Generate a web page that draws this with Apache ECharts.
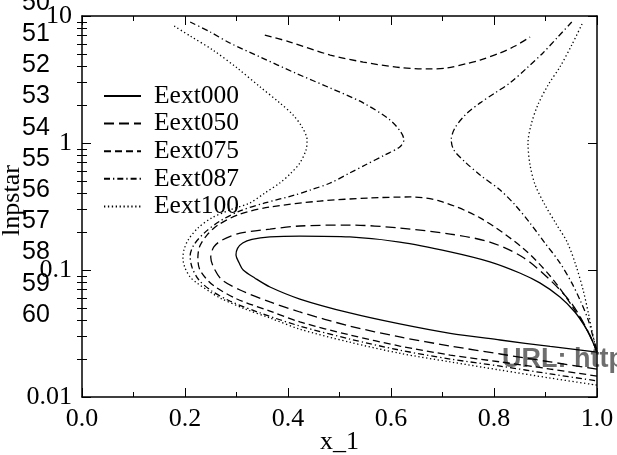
<!DOCTYPE html>
<html>
<head>
<meta charset="utf-8">
<script src="https://cdn.jsdelivr.net/npm/echarts@6/dist/echarts.min.js"></script>
<style>
  html, body { margin: 0; padding: 0; background: #ffffff; }
  #chart { width: 617px; height: 455px; }
</style>
</head>
<body>
<div id="chart"></div>
<script>
// Axis tick labels
const xTickLabels = ['0.0', '0.2', '0.4', '0.6', '0.8', '1.0'];
const yTickLabels = ['0.01', '0.1', '1', '10'];
const yMinorTicks = [0.02, 0.03, 0.04, 0.05, 0.06, 0.07, 0.08, 0.09,
                     0.2, 0.3, 0.4, 0.5, 0.6, 0.7, 0.8, 0.9,
                     2, 3, 4, 5, 6, 7, 8, 9];

// Series names
const seriesNames = ['Eext000', 'Eext050', 'Eext075', 'Eext087', 'Eext100'];

// Row labels running down the left margin
const sideNumbers = ['50', '51', '52', '53', '54', '55', '56', '57', '58', '59', '60'];
const urlText = 'URL: http';

// Contours: [x_1, lnpstar]
const eext000 = [
  [1.0, 0.0226], [0.909, 0.0250], [0.812, 0.0281], [0.715, 0.0317], [0.617, 0.0376],
  [0.520, 0.0459], [0.423, 0.0591], [0.365, 0.0735], [0.336, 0.0862],
  [0.313, 0.100], [0.305, 0.114], [0.299, 0.131], [0.302, 0.148], [0.312, 0.163],
  [0.330, 0.174], [0.365, 0.182], [0.423, 0.185], [0.520, 0.182], [0.617, 0.166],
  [0.715, 0.139], [0.792, 0.116], [0.850, 0.0947], [0.889, 0.0791], [0.928, 0.0613],
  [0.957, 0.0467], [0.977, 0.0356], [0.990, 0.0281], [1.0, 0.0226]
];

const eext050 = [
  [1.0, 0.0166], [0.909, 0.0189], [0.812, 0.0218], [0.715, 0.0252], [0.617, 0.0297],
  [0.520, 0.0362], [0.423, 0.0467], [0.365, 0.0560], [0.307, 0.0696], [0.272, 0.0834],
  [0.256, 0.104], [0.250, 0.126], [0.256, 0.152], [0.272, 0.172], [0.307, 0.195],
  [0.365, 0.210], [0.423, 0.222], [0.520, 0.226], [0.617, 0.214], [0.715, 0.192],
  [0.792, 0.166], [0.856, 0.126], [0.909, 0.0834], [0.953, 0.0530], [0.986, 0.0308],
  [1.0, 0.0226]
];

const eext075Loop = [
  [1.0, 0.0146], [0.909, 0.0166], [0.812, 0.0189], [0.715, 0.0214], [0.617, 0.0252],
  [0.520, 0.0308], [0.423, 0.0390], [0.365, 0.0475], [0.301, 0.0591], [0.254, 0.0762],
  [0.229, 0.100], [0.225, 0.126], [0.229, 0.155], [0.243, 0.189], [0.264, 0.226],
  [0.307, 0.276], [0.365, 0.313], [0.462, 0.349], [0.559, 0.369], [0.637, 0.376],
  [0.695, 0.349], [0.773, 0.257], [0.856, 0.149], [0.909, 0.0897], [0.953, 0.0511],
  [0.986, 0.0308], [1.0, 0.0226]
];

const eext075Arc = [
  [0.355, 7.08], [0.404, 6.24], [0.482, 4.93], [0.546, 4.34], [0.617, 3.93],
  [0.676, 3.83], [0.709, 3.90], [0.748, 4.23], [0.773, 4.50], [0.812, 5.12],
  [0.841, 5.80], [0.870, 6.83]
];

const eext087Left = [
  [0.210, 8.97], [0.249, 7.48], [0.287, 6.13], [0.346, 4.75], [0.414, 3.56],
  [0.482, 2.71], [0.546, 2.07], [0.598, 1.52], [0.619, 1.22], [0.625, 1.06],
  [0.617, 0.931], [0.588, 0.805], [0.550, 0.671], [0.520, 0.581], [0.482, 0.484],
  [0.443, 0.426], [0.414, 0.390], [0.355, 0.337], [0.307, 0.292], [0.268, 0.243],
  [0.237, 0.195], [0.217, 0.157], [0.210, 0.129], [0.214, 0.104], [0.227, 0.0834],
  [0.252, 0.0684], [0.287, 0.0570], [0.346, 0.0459], [0.423, 0.0362], [0.520, 0.0286],
  [0.617, 0.0234], [0.715, 0.0199], [0.812, 0.0175], [0.909, 0.0152], [1.0, 0.0134]
];

const eext087Right = [
  [0.951, 8.97], [0.924, 6.83], [0.895, 5.12], [0.864, 3.90], [0.831, 2.97],
  [0.802, 2.48], [0.773, 2.07], [0.744, 1.66], [0.724, 1.31], [0.717, 1.06],
  [0.722, 0.881], [0.744, 0.708], [0.773, 0.560], [0.812, 0.426], [0.841, 0.325],
  [0.870, 0.234], [0.899, 0.163], [0.928, 0.114], [0.951, 0.0791], [0.967, 0.0581],
  [0.983, 0.0404], [0.994, 0.0281], [1.0, 0.0234]
];

const eext100Left = [
  [0.179, 8.34], [0.210, 6.96], [0.254, 5.40], [0.301, 3.90], [0.346, 2.76],
  [0.384, 2.07], [0.410, 1.66], [0.427, 1.34], [0.437, 1.06], [0.435, 0.881],
  [0.423, 0.696], [0.404, 0.570], [0.384, 0.484], [0.355, 0.404], [0.326, 0.337],
  [0.287, 0.297], [0.252, 0.257], [0.225, 0.214], [0.206, 0.172], [0.198, 0.144],
  [0.196, 0.124], [0.200, 0.104], [0.210, 0.0881], [0.223, 0.0791], [0.249, 0.0671],
  [0.268, 0.0602], [0.317, 0.0493], [0.365, 0.0419], [0.423, 0.0342], [0.520, 0.0270],
  [0.617, 0.0221], [0.715, 0.0189], [0.812, 0.0163], [0.909, 0.0141], [1.0, 0.0124]
];

const eext100Right = [
  [0.971, 8.65], [0.951, 5.91], [0.928, 3.97], [0.905, 2.86], [0.885, 1.99],
  [0.872, 1.39], [0.866, 1.00], [0.870, 0.671], [0.880, 0.467], [0.899, 0.325],
  [0.922, 0.226], [0.942, 0.166], [0.959, 0.109], [0.973, 0.0696], [0.984, 0.0443],
  [0.994, 0.0281], [1.0, 0.0226]
];

const SERIF = '"Liberation Serif", "Times New Roman", serif';
const SANS = '"Liberation Sans", Arial, sans-serif';
const INK = '#000000';

const dashStyles = {
  Eext000: 'solid',
  Eext050: [10, 5],
  Eext075: [7, 4],
  Eext087: [6, 3, 1.3, 3],
  Eext100: [1.3, 2.6]
};

function curve(name, data) {
  return {
    name: name,
    type: 'line',
    data: data,
    symbol: 'none',
    smooth: 0.3,
    clip: true,
    silent: true,
    animation: false,
    lineStyle: { color: INK, width: 1.3, type: dashStyles[name] },
    itemStyle: { color: INK }
  };
}

const series = [
  curve('Eext000', eext000),
  curve('Eext050', eext050),
  curve('Eext075', eext075Loop),
  curve('Eext075', eext075Arc),
  curve('Eext087', eext087Left),
  curve('Eext087', eext087Right),
  curve('Eext100', eext100Left),
  curve('Eext100', eext100Right)
];

function xAxisBase(position, withLabels) {
  return {
    type: 'value',
    position: position,
    min: 0, max: 1, interval: 0.2,
    name: withLabels ? 'x_1' : '',
    nameLocation: 'middle',
    nameGap: 32,
    nameMoveOverlap: false,
    nameTextStyle: { fontFamily: SERIF, fontSize: 26, color: INK },
    axisLine: { show: true, onZero: false, lineStyle: { color: INK, width: 1.5 } },
    axisTick: { show: true, inside: true, length: 9, lineStyle: { color: INK, width: 1 } },
    minorTick: { show: true, splitNumber: 2, length: 5, lineStyle: { color: INK, width: 1 } },
    axisLabel: {
      show: withLabels, margin: 9, fontFamily: SERIF, fontSize: 26, color: INK,
      formatter: v => xTickLabels[Math.round(v / 0.2)]
    },
    splitLine: { show: false }
  };
}

function yAxisBase(position, withLabels) {
  return {
    type: 'log',
    logBase: 10,
    position: position,
    min: 0.01, max: 10,
    name: withLabels ? 'lnpstar' : '',
    nameLocation: 'middle',
    nameGap: 57,
    nameRotate: 90,
    nameMoveOverlap: false,
    nameTextStyle: { fontFamily: SERIF, fontSize: 26, color: INK, padding: [0, 0, 0, 12] },
    axisLine: { show: true, onZero: false, lineStyle: { color: INK, width: 1.5 } },
    axisTick: { show: true, inside: true, length: 9, lineStyle: { color: INK, width: 1 } },
    axisLabel: {
      show: withLabels, margin: 10, fontFamily: SERIF, fontSize: 26, color: INK,
      formatter: v => yTickLabels[Math.round(Math.log10(v)) + 2]
    },
    splitLine: { show: false }
  };
}

function yMinorAxis(position) {
  return {
    type: 'log',
    logBase: 10,
    position: position,
    min: 0.01, max: 10,
    axisLine: { show: false },
    axisTick: { show: true, inside: true, length: 5, customValues: yMinorTicks,
                lineStyle: { color: INK, width: 1 } },
    axisLabel: { show: false },
    splitLine: { show: false }
  };
}

const chart = echarts.init(document.getElementById('chart'), null, { renderer: 'canvas' });

const rowGraphics = sideNumbers.map((t, i) => ({
  type: 'text',
  x: 36,
  y: 3 + 31.2 * i,
  silent: true,
  style: {
    text: t,
    fill: INK,
    font: '25px ' + SANS,
    textAlign: 'center',
    textVerticalAlign: 'middle'
  }
}));

chart.setOption({
  animation: false,
  backgroundColor: '#ffffff',
  grid: { left: 82, right: 20, top: 16, bottom: 58, containLabel: false, outerBoundsMode: 'none' },
  xAxis: [xAxisBase('bottom', true), xAxisBase('top', false)],
  yAxis: [yAxisBase('left', true), yAxisBase('right', false), yMinorAxis('left'), yMinorAxis('right')],
  legend: {
    show: true,
    orient: 'vertical',
    left: 103,
    top: 83,
    padding: 0,
    itemWidth: 37,
    itemHeight: 14,
    itemGap: 1.6,
    selectedMode: false,
    data: seriesNames,
    itemStyle: { color: 'transparent', borderColor: 'transparent', borderWidth: 0 },
    textStyle: { fontFamily: SERIF, fontSize: 25.5, color: INK, lineHeight: 24, padding: [0, 0, 0, 8] }
  },
  graphic: rowGraphics.concat([{
    type: 'text',
    x: 502,
    y: 360,
    silent: true,
    style: {
      text: urlText,
      fill: '#6e6e6e',
      font: 'bold 27px ' + SANS,
      textAlign: 'left',
      textVerticalAlign: 'middle'
    }
  }]),
  series: series
});
</script>
</body>
</html>
